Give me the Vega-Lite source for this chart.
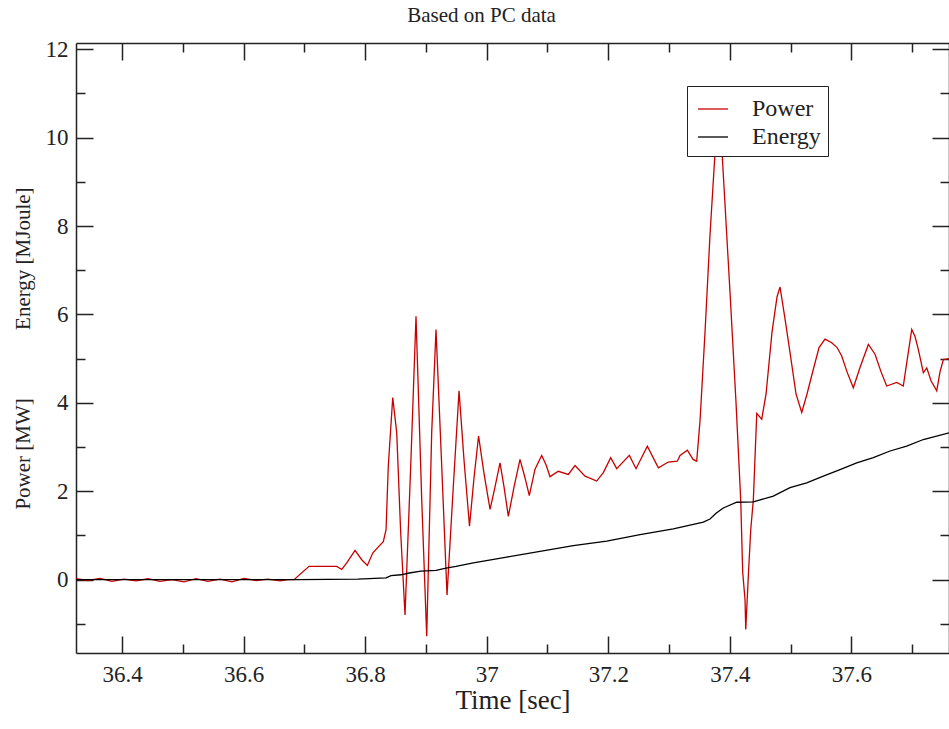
{
  "$schema": "https://vega.github.io/schema/vega-lite/v6.json",
  "width": 873,
  "height": 610,
  "autosize": {"type": "none"},
  "padding": {"left": 76, "top": 43, "right": 0, "bottom": 76},
  "background": "white",
  "title": {"text": "Based on PC data", "font": "Liberation Serif", "fontSize": 21, "fontWeight": "normal", "color": "#222", "offset": 12, "dx": -31},
  "config": {
    "view": {"stroke": null},
    "axis": {"grid": false, "domainColor": "#222", "domainWidth": 1.5, "tickColor": "#222", "tickWidth": 1.5, "labelFont": "Liberation Serif", "labelFontSize": 23, "labelColor": "#222", "titleFont": "Liberation Serif", "titleFontWeight": "normal", "titleColor": "#222"}
  },
  "data": {"values": [
    {"t": 36.3243, "v": 0.02, "s": "Power"},
    {"t": 36.3441, "v": -0.02, "s": "Power"},
    {"t": 36.3638, "v": 0.03, "s": "Power"},
    {"t": 36.3835, "v": -0.04, "s": "Power"},
    {"t": 36.4033, "v": 0.01, "s": "Power"},
    {"t": 36.4230, "v": -0.03, "s": "Power"},
    {"t": 36.4428, "v": 0.02, "s": "Power"},
    {"t": 36.4625, "v": -0.04, "s": "Power"},
    {"t": 36.4823, "v": 0.0, "s": "Power"},
    {"t": 36.5020, "v": -0.05, "s": "Power"},
    {"t": 36.5218, "v": 0.02, "s": "Power"},
    {"t": 36.5415, "v": -0.04, "s": "Power"},
    {"t": 36.5612, "v": 0.01, "s": "Power"},
    {"t": 36.5810, "v": -0.05, "s": "Power"},
    {"t": 36.6007, "v": 0.03, "s": "Power"},
    {"t": 36.6205, "v": -0.02, "s": "Power"},
    {"t": 36.6402, "v": 0.01, "s": "Power"},
    {"t": 36.6600, "v": -0.03, "s": "Power"},
    {"t": 36.6731, "v": 0.0, "s": "Power"},
    {"t": 36.6830, "v": 0.0, "s": "Power"},
    {"t": 36.7077, "v": 0.3, "s": "Power"},
    {"t": 36.7389, "v": 0.3, "s": "Power"},
    {"t": 36.7532, "v": 0.3, "s": "Power"},
    {"t": 36.7615, "v": 0.23, "s": "Power"},
    {"t": 36.7697, "v": 0.38, "s": "Power"},
    {"t": 36.7834, "v": 0.66, "s": "Power"},
    {"t": 36.7944, "v": 0.45, "s": "Power"},
    {"t": 36.8036, "v": 0.32, "s": "Power"},
    {"t": 36.8125, "v": 0.6, "s": "Power"},
    {"t": 36.8217, "v": 0.74, "s": "Power"},
    {"t": 36.8299, "v": 0.86, "s": "Power"},
    {"t": 36.8344, "v": 1.13, "s": "Power"},
    {"t": 36.8381, "v": 2.57, "s": "Power"},
    {"t": 36.8454, "v": 4.12, "s": "Power"},
    {"t": 36.8520, "v": 3.32, "s": "Power"},
    {"t": 36.8585, "v": 1.06, "s": "Power"},
    {"t": 36.8656, "v": -0.8, "s": "Power"},
    {"t": 36.8750, "v": 2.57, "s": "Power"},
    {"t": 36.8837, "v": 5.96, "s": "Power"},
    {"t": 36.8931, "v": 1.81, "s": "Power"},
    {"t": 36.9013, "v": -1.28, "s": "Power"},
    {"t": 36.9095, "v": 3.32, "s": "Power"},
    {"t": 36.9166, "v": 5.66, "s": "Power"},
    {"t": 36.9260, "v": 2.57, "s": "Power"},
    {"t": 36.9347, "v": -0.35, "s": "Power"},
    {"t": 36.9446, "v": 2.0, "s": "Power"},
    {"t": 36.9545, "v": 4.27, "s": "Power"},
    {"t": 36.9627, "v": 2.7, "s": "Power"},
    {"t": 36.9717, "v": 1.21, "s": "Power"},
    {"t": 36.9791, "v": 2.3, "s": "Power"},
    {"t": 36.9866, "v": 3.25, "s": "Power"},
    {"t": 36.9956, "v": 2.4, "s": "Power"},
    {"t": 37.0055, "v": 1.59, "s": "Power"},
    {"t": 37.0137, "v": 2.1, "s": "Power"},
    {"t": 37.0219, "v": 2.64, "s": "Power"},
    {"t": 37.0285, "v": 2.1, "s": "Power"},
    {"t": 37.0356, "v": 1.43, "s": "Power"},
    {"t": 37.0450, "v": 2.1, "s": "Power"},
    {"t": 37.0548, "v": 2.72, "s": "Power"},
    {"t": 37.0631, "v": 2.3, "s": "Power"},
    {"t": 37.0701, "v": 1.9, "s": "Power"},
    {"t": 37.0795, "v": 2.5, "s": "Power"},
    {"t": 37.0905, "v": 2.81, "s": "Power"},
    {"t": 37.0976, "v": 2.6, "s": "Power"},
    {"t": 37.1042, "v": 2.33, "s": "Power"},
    {"t": 37.1178, "v": 2.45, "s": "Power"},
    {"t": 37.1343, "v": 2.38, "s": "Power"},
    {"t": 37.1453, "v": 2.58, "s": "Power"},
    {"t": 37.1618, "v": 2.34, "s": "Power"},
    {"t": 37.1810, "v": 2.23, "s": "Power"},
    {"t": 37.1919, "v": 2.42, "s": "Power"},
    {"t": 37.2040, "v": 2.76, "s": "Power"},
    {"t": 37.2139, "v": 2.51, "s": "Power"},
    {"t": 37.2347, "v": 2.81, "s": "Power"},
    {"t": 37.2457, "v": 2.51, "s": "Power"},
    {"t": 37.2643, "v": 3.02, "s": "Power"},
    {"t": 37.2824, "v": 2.53, "s": "Power"},
    {"t": 37.2988, "v": 2.66, "s": "Power"},
    {"t": 37.3136, "v": 2.68, "s": "Power"},
    {"t": 37.3181, "v": 2.81, "s": "Power"},
    {"t": 37.3301, "v": 2.93, "s": "Power"},
    {"t": 37.3395, "v": 2.72, "s": "Power"},
    {"t": 37.3455, "v": 2.68, "s": "Power"},
    {"t": 37.3510, "v": 3.6, "s": "Power"},
    {"t": 37.3592, "v": 5.6, "s": "Power"},
    {"t": 37.3674, "v": 7.8, "s": "Power"},
    {"t": 37.3757, "v": 9.67, "s": "Power"},
    {"t": 37.3814, "v": 10.5, "s": "Power"},
    {"t": 37.3872, "v": 9.67, "s": "Power"},
    {"t": 37.4003, "v": 6.5, "s": "Power"},
    {"t": 37.4102, "v": 4.0, "s": "Power"},
    {"t": 37.4179, "v": 1.81, "s": "Power"},
    {"t": 37.4212, "v": 0.16, "s": "Power"},
    {"t": 37.4250, "v": -0.45, "s": "Power"},
    {"t": 37.4262, "v": -1.13, "s": "Power"},
    {"t": 37.4304, "v": 0.07, "s": "Power"},
    {"t": 37.4344, "v": 1.13, "s": "Power"},
    {"t": 37.4387, "v": 1.81, "s": "Power"},
    {"t": 37.4443, "v": 3.76, "s": "Power"},
    {"t": 37.4525, "v": 3.63, "s": "Power"},
    {"t": 37.4596, "v": 4.2, "s": "Power"},
    {"t": 37.4694, "v": 5.6, "s": "Power"},
    {"t": 37.4777, "v": 6.4, "s": "Power"},
    {"t": 37.4826, "v": 6.62, "s": "Power"},
    {"t": 37.4908, "v": 5.9, "s": "Power"},
    {"t": 37.4990, "v": 5.14, "s": "Power"},
    {"t": 37.5089, "v": 4.2, "s": "Power"},
    {"t": 37.5183, "v": 3.78, "s": "Power"},
    {"t": 37.5270, "v": 4.2, "s": "Power"},
    {"t": 37.5374, "v": 4.76, "s": "Power"},
    {"t": 37.5468, "v": 5.25, "s": "Power"},
    {"t": 37.5566, "v": 5.44, "s": "Power"},
    {"t": 37.5677, "v": 5.36, "s": "Power"},
    {"t": 37.5764, "v": 5.25, "s": "Power"},
    {"t": 37.5841, "v": 5.06, "s": "Power"},
    {"t": 37.5928, "v": 4.7, "s": "Power"},
    {"t": 37.6032, "v": 4.34, "s": "Power"},
    {"t": 37.6142, "v": 4.8, "s": "Power"},
    {"t": 37.6279, "v": 5.32, "s": "Power"},
    {"t": 37.6389, "v": 5.1, "s": "Power"},
    {"t": 37.6488, "v": 4.7, "s": "Power"},
    {"t": 37.6581, "v": 4.38, "s": "Power"},
    {"t": 37.6746, "v": 4.46, "s": "Power"},
    {"t": 37.6854, "v": 4.38, "s": "Power"},
    {"t": 37.6932, "v": 5.1, "s": "Power"},
    {"t": 37.6993, "v": 5.66, "s": "Power"},
    {"t": 37.7047, "v": 5.5, "s": "Power"},
    {"t": 37.7101, "v": 5.21, "s": "Power"},
    {"t": 37.7184, "v": 4.68, "s": "Power"},
    {"t": 37.7240, "v": 4.79, "s": "Power"},
    {"t": 37.7310, "v": 4.5, "s": "Power"},
    {"t": 37.7404, "v": 4.27, "s": "Power"},
    {"t": 37.7458, "v": 4.7, "s": "Power"},
    {"t": 37.7513, "v": 4.98, "s": "Power"},
    {"t": 37.7606, "v": 5.0, "s": "Power"},
    {"t": 36.3243, "v": 0.0, "s": "Energy"},
    {"t": 36.5300, "v": 0.0, "s": "Energy"},
    {"t": 36.6900, "v": 0.0, "s": "Energy"},
    {"t": 36.7878, "v": 0.01, "s": "Energy"},
    {"t": 36.8344, "v": 0.04, "s": "Energy"},
    {"t": 36.8426, "v": 0.09, "s": "Energy"},
    {"t": 36.8590, "v": 0.11, "s": "Energy"},
    {"t": 36.8727, "v": 0.15, "s": "Energy"},
    {"t": 36.8919, "v": 0.19, "s": "Energy"},
    {"t": 36.9166, "v": 0.21, "s": "Energy"},
    {"t": 36.9331, "v": 0.26, "s": "Energy"},
    {"t": 36.9495, "v": 0.30, "s": "Energy"},
    {"t": 36.9780, "v": 0.38, "s": "Energy"},
    {"t": 37.0329, "v": 0.51, "s": "Energy"},
    {"t": 37.0877, "v": 0.64, "s": "Energy"},
    {"t": 37.1425, "v": 0.77, "s": "Energy"},
    {"t": 37.1975, "v": 0.87, "s": "Energy"},
    {"t": 37.2523, "v": 1.02, "s": "Energy"},
    {"t": 37.3070, "v": 1.15, "s": "Energy"},
    {"t": 37.3564, "v": 1.30, "s": "Energy"},
    {"t": 37.3674, "v": 1.37, "s": "Energy"},
    {"t": 37.3773, "v": 1.50, "s": "Energy"},
    {"t": 37.3893, "v": 1.62, "s": "Energy"},
    {"t": 37.4113, "v": 1.75, "s": "Energy"},
    {"t": 37.4387, "v": 1.76, "s": "Energy"},
    {"t": 37.4715, "v": 1.89, "s": "Energy"},
    {"t": 37.4990, "v": 2.08, "s": "Energy"},
    {"t": 37.5265, "v": 2.19, "s": "Energy"},
    {"t": 37.5538, "v": 2.34, "s": "Energy"},
    {"t": 37.5813, "v": 2.49, "s": "Energy"},
    {"t": 37.6088, "v": 2.64, "s": "Energy"},
    {"t": 37.6361, "v": 2.76, "s": "Energy"},
    {"t": 37.6636, "v": 2.91, "s": "Energy"},
    {"t": 37.6910, "v": 3.02, "s": "Energy"},
    {"t": 37.7184, "v": 3.17, "s": "Energy"},
    {"t": 37.7606, "v": 3.32, "s": "Energy"}
  ]},
  "layer": [
    {
      "transform": [{"filter": "datum.s === 'Power'"}],
      "mark": {"type": "line", "strokeWidth": 1.3},
      "encoding": {
        "x": {"field": "t", "type": "quantitative", "scale": {"domain": [36.3243, 37.7606], "nice": false, "zero": false},
          "axis": {"orient": "bottom", "values": [36.4, 36.6, 36.8, 37, 37.2, 37.4, 37.6], "format": ".1~f", "tickSize": -17, "labelPadding": 27, "title": "Time [sec]", "titleFontSize": 27, "titlePadding": 1}},
        "y": {"field": "v", "type": "quantitative", "scale": {"domain": [-1.66, 12.14], "nice": false, "zero": false},
          "axis": {"orient": "left", "values": [0, 2, 4, 6, 8, 10, 12], "tickSize": -17, "labelPadding": 25, "title": "Power [MW]\u00a0\u00a0\u00a0\u00a0\u00a0\u00a0\u00a0\u00a0\u00a0\u00a0\u00a0\u00a0\u00a0Energy [MJoule]", "titleFontSize": 21, "titlePadding": 12}},
        "color": {"field": "s", "type": "nominal", "scale": {"domain": ["Power", "Energy"], "range": ["#c80000", "#000000"]},
          "legend": {"orient": "none", "legendX": 611, "legendY": 43, "title": null, "strokeColor": "#222", "fillColor": "white", "padding": 7, "symbolOffset": 3, "symbolType": "stroke", "symbolSize": 900, "symbolStrokeWidth": 1.3, "labelFont": "Liberation Serif", "labelFontSize": 24, "labelColor": "#222", "labelOffset": 23, "rowPadding": 0}}
      }
    },
    {
      "transform": [{"filter": "datum.s === 'Energy'"}],
      "mark": {"type": "line", "strokeWidth": 1.3},
      "encoding": {
        "x": {"field": "t", "type": "quantitative",
          "axis": {"orient": "top", "values": [36.4, 36.6, 36.8, 37, 37.2, 37.4, 37.6], "labels": false, "tickSize": -17, "title": null}},
        "y": {"field": "v", "type": "quantitative",
          "axis": {"orient": "right", "values": [0, 2, 4, 6, 8, 10, 12], "labels": false, "tickSize": -17, "title": null}},
        "color": {"field": "s", "type": "nominal"}
      }
    },
    {
      "transform": [{"filter": "datum.s === 'Power'"}],
      "mark": {"type": "line", "opacity": 0},
      "encoding": {
        "x": {"field": "t", "type": "quantitative",
          "axis": {"orient": "bottom", "values": [36.5, 36.7, 36.9, 37.1, 37.3, 37.5, 37.7], "labels": false, "domain": false, "tickSize": -9, "title": null}},
        "y": {"field": "v", "type": "quantitative",
          "axis": {"orient": "left", "values": [-1, 1, 3, 5, 7, 9, 11], "labels": false, "domain": false, "tickSize": -9, "title": null}}
      }
    },
    {
      "transform": [{"filter": "datum.s === 'Energy'"}],
      "mark": {"type": "line", "opacity": 0},
      "encoding": {
        "x": {"field": "t", "type": "quantitative",
          "axis": {"orient": "top", "values": [36.5, 36.7, 36.9, 37.1, 37.3, 37.5, 37.7], "labels": false, "domain": false, "tickSize": -9, "title": null}},
        "y": {"field": "v", "type": "quantitative",
          "axis": {"orient": "right", "values": [-1, 1, 3, 5, 7, 9, 11], "labels": false, "domain": false, "tickSize": -9, "title": null}}
      }
    }
  ],
  "resolve": {"axis": {"x": "independent", "y": "independent"}}
}
